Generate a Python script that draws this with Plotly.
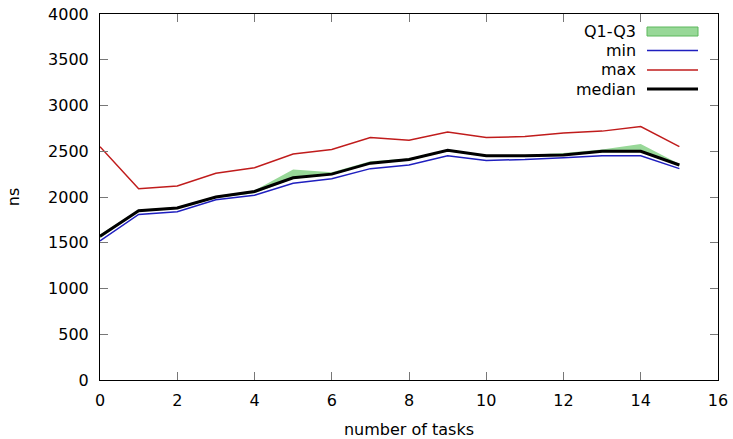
import plotly.graph_objects as go

tasks = list(range(16))
min_ns = [1520, 1810, 1840, 1970, 2020, 2150, 2200, 2310, 2350, 2450, 2400, 2410, 2430, 2450, 2450, 2310]
max_ns = [2550, 2090, 2120, 2260, 2320, 2470, 2520, 2650, 2620, 2710, 2650, 2660, 2700, 2720, 2770, 2550]
median_ns = [1570, 1850, 1880, 2000, 2060, 2210, 2250, 2370, 2410, 2510, 2450, 2450, 2460, 2500, 2500, 2350]
q1_ns = [1550, 1840, 1870, 1990, 2040, 2200, 2240, 2360, 2400, 2500, 2440, 2440, 2450, 2490, 2490, 2340]
q3_ns = [1590, 1860, 1890, 2010, 2070, 2300, 2270, 2390, 2420, 2520, 2460, 2460, 2480, 2520, 2580, 2360]

x_ticks = [0, 2, 4, 6, 8, 10, 12, 14, 16]
y_ticks = [0, 500, 1000, 1500, 2000, 2500, 3000, 3500, 4000]

GREEN = "#98d898"
GREEN_EDGE = "#5cb85c"
BLUE = "#1f1fbf"
RED = "#c01c1c"
FONT = "DejaVu Sans"
FS = 16

fig = go.Figure()
fig.add_trace(go.Scatter(x=tasks, y=q1_ns, mode="lines", line=dict(width=0, color=GREEN),
                         showlegend=False, hoverinfo="skip"))
fig.add_trace(go.Scatter(x=tasks, y=q3_ns, mode="lines", line=dict(width=0, color=GREEN),
                         fill="tonexty", fillcolor=GREEN, name="Q1-Q3", showlegend=False))
fig.add_trace(go.Scatter(x=tasks, y=min_ns, mode="lines", line=dict(width=1.5, color=BLUE),
                         name="min", showlegend=False))
fig.add_trace(go.Scatter(x=tasks, y=max_ns, mode="lines", line=dict(width=1.5, color=RED),
                         name="max", showlegend=False))
fig.add_trace(go.Scatter(x=tasks, y=median_ns, mode="lines", line=dict(width=3, color="black"),
                         name="median", showlegend=False))

axis_common = dict(showgrid=False, zeroline=False, showline=True, linecolor="black", linewidth=1,
                   mirror="ticks", ticks="inside", ticklen=8, tickcolor="#777", tickwidth=1,
                   automargin=False,
                   tickfont=dict(family=FONT, size=FS, color="black"))

fig.update_xaxes(range=[0, 16], tickvals=x_ticks, ticktext=[str(v) for v in x_ticks],
                 ticklabelstandoff=6,
                 title=dict(text="number of tasks", font=dict(family=FONT, size=FS, color="black"), standoff=14),
                 **axis_common)
fig.update_yaxes(range=[0, 4000], tickvals=y_ticks, ticktext=[str(v) for v in y_ticks],
                 ticklabelstandoff=7,
                 title=dict(text="ns", font=dict(family=FONT, size=FS, color="black"), standoff=24),
                 **axis_common)

W, H = 733, 439
L, R, T, B = 100, 15, 14, 59
pw, ph = W - L - R, H - T - B

def px(xp):
    return (xp - L) / pw

def py(yp):
    return 1 - (yp - T) / ph

legend_items = [("Q1-Q3", 31.5, "box"), ("min", 50.5, BLUE), ("max", 70, RED), ("median", 89, "black")]
annotations = []
shapes = []
for label, ypx, style in legend_items:
    annotations.append(dict(x=px(638), y=py(ypx), xref="paper", yref="paper", text=label,
                            showarrow=False, xanchor="right", yanchor="middle",
                            font=dict(family=FONT, size=FS, color="black")))
    if style == "box":
        shapes.append(dict(type="rect", xref="paper", yref="paper", x0=px(647), x1=px(698),
                           y0=py(ypx + 4.5), y1=py(ypx - 4.5), fillcolor=GREEN,
                           line=dict(color=GREEN_EDGE, width=1)))
    else:
        shapes.append(dict(type="line", xref="paper", yref="paper", x0=px(647), x1=px(698),
                           y0=py(ypx), y1=py(ypx),
                           line=dict(color=style, width=3 if style == "black" else 1.5)))

fig.update_layout(width=W, height=H, margin=dict(l=L, r=R, t=T, b=B),
                  paper_bgcolor="white", plot_bgcolor="white",
                  annotations=annotations, shapes=shapes, showlegend=False)

fig.write_html("out.html", config={"displayModeBar": False},
               post_script="document.body.style.margin='0px';document.body.style.overflow='hidden';")
